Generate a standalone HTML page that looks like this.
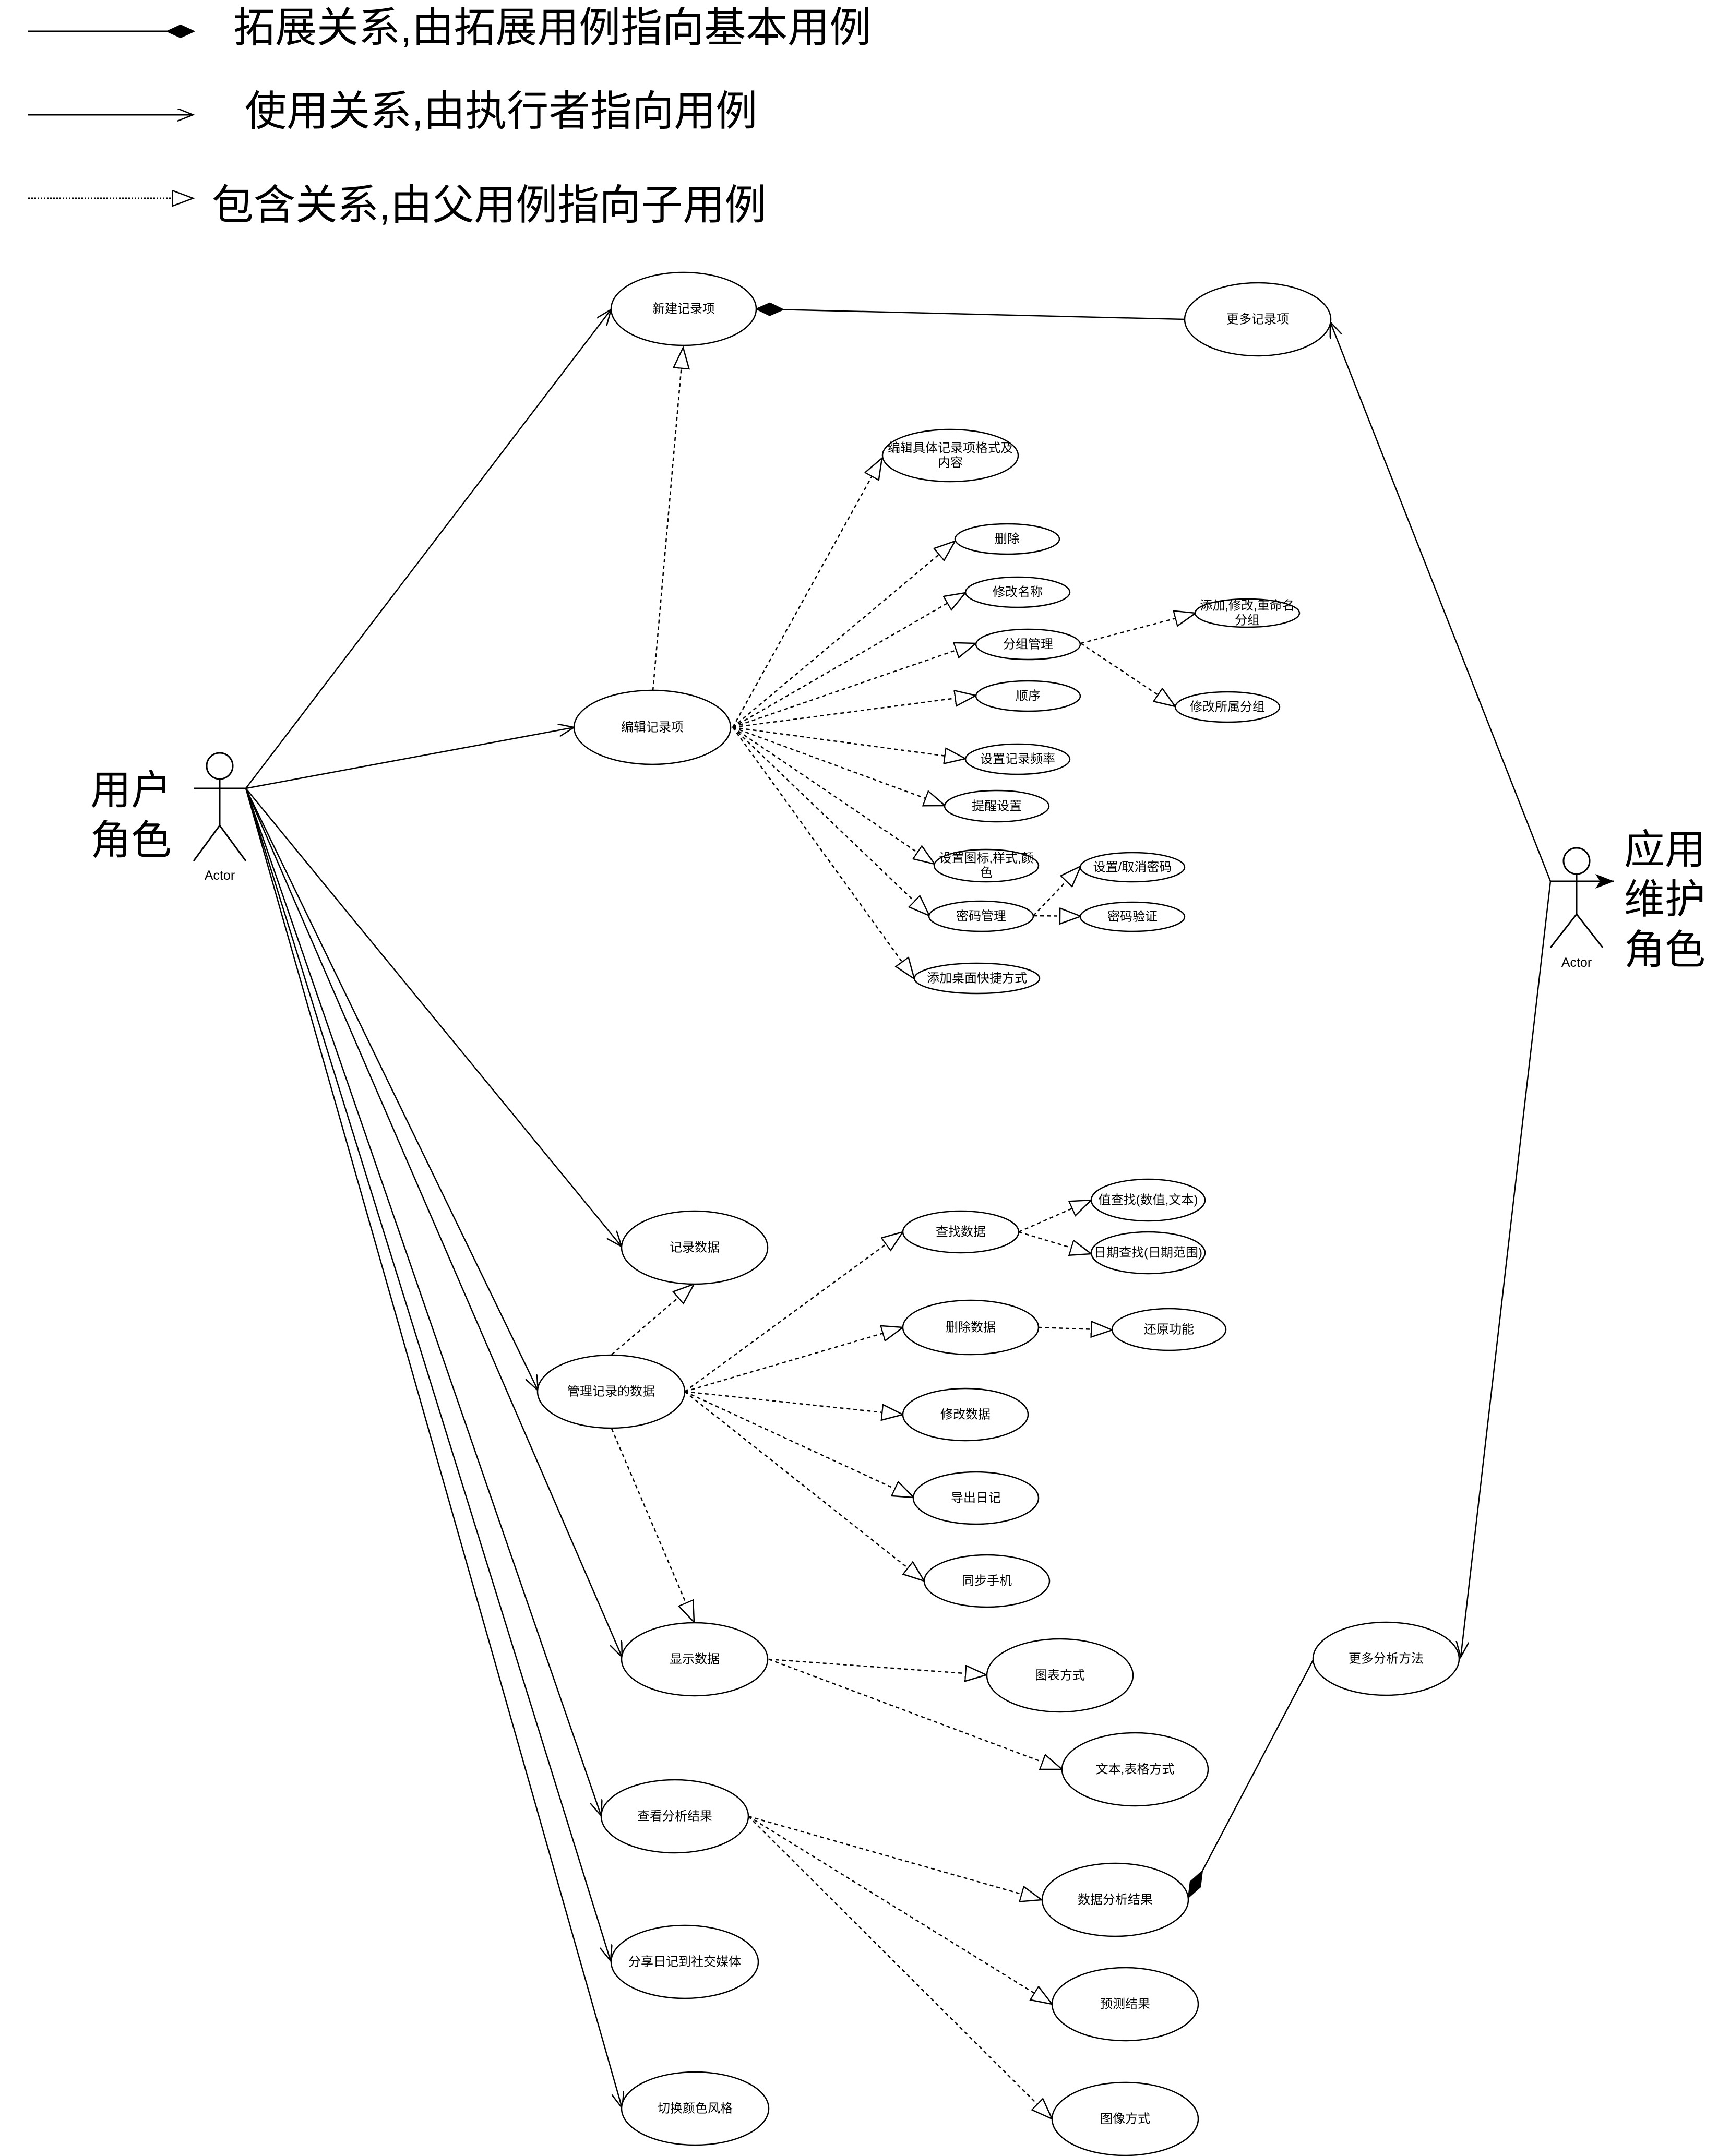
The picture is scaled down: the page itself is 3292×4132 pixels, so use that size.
<!DOCTYPE html>
<html><head><meta charset="utf-8"><style>
html,body{margin:0;padding:0;background:#fff;}
svg{display:block;}
text{font-family:"Liberation Sans","Noto Sans CJK SC",sans-serif;fill:#000;}
</style></head><body>
<svg width="3292" height="4132" viewBox="0 0 3292 4132" xmlns="http://www.w3.org/2000/svg">
<defs>
<marker id="oa" markerUnits="userSpaceOnUse" markerWidth="34" markerHeight="28" refX="30" refY="12" orient="auto"><path d="M0,0 L30,12 L0,24" fill="none" stroke="#000" stroke-width="2.5" stroke-dasharray="none"/></marker>
<marker id="tri" markerUnits="userSpaceOnUse" markerWidth="44" markerHeight="34" refX="41" refY="16" orient="auto"><path d="M1,1 L41,16 L1,31 Z" fill="#fff" stroke="#000" stroke-width="2.5" stroke-dasharray="none"/></marker>
<marker id="dia" markerUnits="userSpaceOnUse" markerWidth="54" markerHeight="28" refX="52" refY="13" orient="auto"><path d="M0,13 L26,1 L52,13 L26,25 Z" fill="#000" stroke="#000" stroke-width="2" stroke-dasharray="none"/></marker>
<marker id="dia2" markerUnits="userSpaceOnUse" markerWidth="60" markerHeight="26" refX="58" refY="12" orient="auto"><path d="M0,12 L29,1 L58,12 L29,23 Z" fill="#000" stroke="#000" stroke-width="2" stroke-dasharray="none"/></marker>
<marker id="fa" markerUnits="userSpaceOnUse" markerWidth="40" markerHeight="30" refX="36" refY="14" orient="auto"><path d="M0,0 L36,14 L0,28 L9,14 Z" fill="#000"/></marker>
</defs>

<!-- Legend -->
<g stroke="#000" stroke-width="3" fill="none">
<line x1="54" y1="60" x2="372" y2="60" marker-end="url(#dia)"/>
<line x1="54" y1="220" x2="370" y2="220" marker-end="url(#oa)"/>
<line x1="54" y1="380" x2="370" y2="380" stroke-dasharray="3 3" marker-end="url(#tri)"/>
</g>
<g font-size="80" dominant-baseline="central">
<text x="447" y="53">拓展关系,由拓展用例指向基本用例</text>
<text x="469" y="213">使用关系,由执行者指向用例</text>
<text x="406" y="393">包含关系,由父用例指向子用例</text>
</g>

<!-- Actors -->
<g stroke="#000" stroke-width="3" fill="none">
<circle cx="421" cy="1468" r="25"/>
<line x1="421" y1="1493" x2="421" y2="1582"/>
<line x1="371" y1="1511" x2="471" y2="1511"/>
<line x1="421" y1="1582" x2="371" y2="1650"/>
<line x1="421" y1="1582" x2="471" y2="1650"/>
<circle cx="3021" cy="1650" r="25"/>
<line x1="3021" y1="1675" x2="3021" y2="1752"/>
<line x1="2971" y1="1689" x2="3093" y2="1689" marker-end="url(#fa)"/>
<line x1="3021" y1="1752" x2="2971" y2="1816"/>
<line x1="3021" y1="1752" x2="3071" y2="1816"/>
</g>
<text x="421" y="1678" font-size="25" text-anchor="middle" dominant-baseline="central">Actor</text>
<text x="3021" y="1845" font-size="25" text-anchor="middle" dominant-baseline="central">Actor</text>
<g font-size="78" dominant-baseline="central">
<text x="173" y="1514">用户</text>
<text x="173" y="1610">角色</text>
<text x="3112" y="1628">应用</text>
<text x="3112" y="1723">维护</text>
<text x="3112" y="1820">角色</text>
</g>

<!-- Solid usage lines -->
<g stroke="#000" stroke-width="2.5" fill="none" marker-end="url(#oa)">
<line x1="471" y1="1511" x2="1171" y2="593"/>
<line x1="471" y1="1511" x2="1100" y2="1394"/>
<line x1="471" y1="1511" x2="1191" y2="2389"/>
<line x1="471" y1="1511" x2="1031" y2="2665"/>
<line x1="471" y1="1511" x2="1192" y2="3176"/>
<line x1="471" y1="1511" x2="1152" y2="3480"/>
<line x1="471" y1="1511" x2="1170" y2="3758"/>
<line x1="471" y1="1511" x2="1192" y2="4040"/>
<line x1="2971" y1="1689" x2="2549" y2="617"/>
<line x1="2971" y1="1689" x2="2799" y2="3176"/>
</g>

<!-- Extend lines -->
<g stroke="#000" stroke-width="2.5" fill="none">
<line x1="2270" y1="612" x2="1449" y2="592" marker-end="url(#dia)"/>
<line x1="2519" y1="3176" x2="2277" y2="3637" marker-end="url(#dia2)"/>
</g>

<!-- Include (dashed) lines -->
<g stroke="#000" stroke-width="2.5" fill="none" stroke-dasharray="7 6" marker-end="url(#tri)">
<line x1="1251" y1="1324" x2="1309" y2="666"/>
<line x1="1404" y1="1394" x2="1690" y2="878"/>
<line x1="1404" y1="1394" x2="1830" y2="1037"/>
<line x1="1404" y1="1394" x2="1850" y2="1136"/>
<line x1="1404" y1="1394" x2="1870" y2="1233"/>
<line x1="1404" y1="1394" x2="1870" y2="1333"/>
<line x1="1404" y1="1394" x2="1850" y2="1454"/>
<line x1="1404" y1="1394" x2="1811" y2="1544"/>
<line x1="1404" y1="1394" x2="1791" y2="1656"/>
<line x1="1404" y1="1394" x2="1781" y2="1755"/>
<line x1="1404" y1="1394" x2="1752" y2="1876"/>
<line x1="2071" y1="1233" x2="2291" y2="1175"/>
<line x1="2071" y1="1233" x2="2252" y2="1354"/>
<line x1="1980" y1="1755" x2="2071" y2="1660"/>
<line x1="1980" y1="1755" x2="2071" y2="1756"/>
<line x1="1172" y1="2596" x2="1330" y2="2461"/>
<line x1="1172" y1="2738" x2="1330" y2="3109"/>
<line x1="1312" y1="2667" x2="1730" y2="2361"/>
<line x1="1312" y1="2667" x2="1730" y2="2544"/>
<line x1="1312" y1="2667" x2="1730" y2="2711"/>
<line x1="1312" y1="2667" x2="1751" y2="2870"/>
<line x1="1312" y1="2667" x2="1771" y2="3030"/>
<line x1="1952" y1="2361" x2="2091" y2="2300"/>
<line x1="1952" y1="2361" x2="2091" y2="2403"/>
<line x1="1990" y1="2544" x2="2131" y2="2549"/>
<line x1="1473" y1="3180" x2="1890" y2="3210"/>
<line x1="1473" y1="3180" x2="2035" y2="3391"/>
<line x1="1434" y1="3481" x2="1996" y2="3641"/>
<line x1="1434" y1="3481" x2="2016" y2="3841"/>
<line x1="1434" y1="3481" x2="2016" y2="4061"/>
</g>

<!-- Ellipses -->
<g stroke="#000" stroke-width="2.5" fill="#fff">
<ellipse cx="1310" cy="592" rx="139" ry="70"/>
<ellipse cx="2410" cy="612" rx="140" ry="70"/>
<ellipse cx="1250" cy="1394" rx="150" ry="71"/>
<ellipse cx="1821" cy="873" rx="130" ry="50"/>
<ellipse cx="1930" cy="1033" rx="100" ry="29"/>
<ellipse cx="1950" cy="1135" rx="100" ry="29"/>
<ellipse cx="1970" cy="1235" rx="100" ry="29"/>
<ellipse cx="1970" cy="1334" rx="100" ry="29"/>
<ellipse cx="1950" cy="1455" rx="100" ry="29"/>
<ellipse cx="1910" cy="1545" rx="100" ry="30"/>
<ellipse cx="1890" cy="1659" rx="100" ry="31"/>
<ellipse cx="1880" cy="1756" rx="100" ry="29"/>
<ellipse cx="1872" cy="1875" rx="120" ry="29"/>
<ellipse cx="2390" cy="1175" rx="100" ry="27"/>
<ellipse cx="2352" cy="1355" rx="100" ry="29"/>
<ellipse cx="2170" cy="1662" rx="100" ry="28"/>
<ellipse cx="2170" cy="1757" rx="100" ry="28"/>
<ellipse cx="1331" cy="2391" rx="140" ry="70"/>
<ellipse cx="1171" cy="2667" rx="141" ry="70"/>
<ellipse cx="1841" cy="2361" rx="111" ry="40"/>
<ellipse cx="2200" cy="2300" rx="109" ry="40"/>
<ellipse cx="2200" cy="2401" rx="109" ry="40"/>
<ellipse cx="1860" cy="2544" rx="130" ry="52"/>
<ellipse cx="2240" cy="2548" rx="109" ry="40"/>
<ellipse cx="1850" cy="2711" rx="120" ry="50"/>
<ellipse cx="1870" cy="2871" rx="120" ry="50"/>
<ellipse cx="1891" cy="3030" rx="120" ry="50"/>
<ellipse cx="1331" cy="3180" rx="140" ry="70"/>
<ellipse cx="2031" cy="3211" rx="140" ry="70"/>
<ellipse cx="2175" cy="3391" rx="140" ry="70"/>
<ellipse cx="2656" cy="3179" rx="140" ry="70"/>
<ellipse cx="1293" cy="3481" rx="141" ry="70"/>
<ellipse cx="2137" cy="3641" rx="140" ry="70"/>
<ellipse cx="1312" cy="3760" rx="141" ry="70"/>
<ellipse cx="2156" cy="3841" rx="140" ry="70"/>
<ellipse cx="1332" cy="4041" rx="141" ry="70"/>
<ellipse cx="2156" cy="4061" rx="140" ry="70"/>
</g>

<!-- Labels -->
<g font-size="24" text-anchor="middle" dominant-baseline="central">
<text x="1310" y="592">新建记录项</text>
<text x="2410" y="612">更多记录项</text>
<text x="1250" y="1394">编辑记录项</text>
<text x="1821" y="859">编辑具体记录项格式及</text>
<text x="1821" y="887">内容</text>
<text x="1930" y="1033">删除</text>
<text x="1950" y="1135">修改名称</text>
<text x="1970" y="1235">分组管理</text>
<text x="1970" y="1334">顺序</text>
<text x="1950" y="1455">设置记录频率</text>
<text x="1910" y="1545">提醒设置</text>
<text x="1890" y="1645">设置图标,样式,颜</text>
<text x="1890" y="1673">色</text>
<text x="1880" y="1756">密码管理</text>
<text x="1872" y="1875">添加桌面快捷方式</text>
<text x="2390" y="1161">添加,修改,重命名</text>
<text x="2390" y="1189">分组</text>
<text x="2352" y="1355">修改所属分组</text>
<text x="2170" y="1662">设置/取消密码</text>
<text x="2170" y="1757">密码验证</text>
<text x="1331" y="2391">记录数据</text>
<text x="1171" y="2667">管理记录的数据</text>
<text x="1841" y="2361">查找数据</text>
<text x="2200" y="2300">值查找(数值,文本)</text>
<text x="2200" y="2401">日期查找(日期范围)</text>
<text x="1860" y="2544">删除数据</text>
<text x="2240" y="2548">还原功能</text>
<text x="1850" y="2711">修改数据</text>
<text x="1870" y="2871">导出日记</text>
<text x="1891" y="3030">同步手机</text>
<text x="1331" y="3180">显示数据</text>
<text x="2031" y="3211">图表方式</text>
<text x="2175" y="3391">文本,表格方式</text>
<text x="2656" y="3179">更多分析方法</text>
<text x="1293" y="3481">查看分析结果</text>
<text x="2137" y="3641">数据分析结果</text>
<text x="1312" y="3760">分享日记到社交媒体</text>
<text x="2156" y="3841">预测结果</text>
<text x="1332" y="4041">切换颜色风格</text>
<text x="2156" y="4061">图像方式</text>
</g>
</svg>
</body></html>
